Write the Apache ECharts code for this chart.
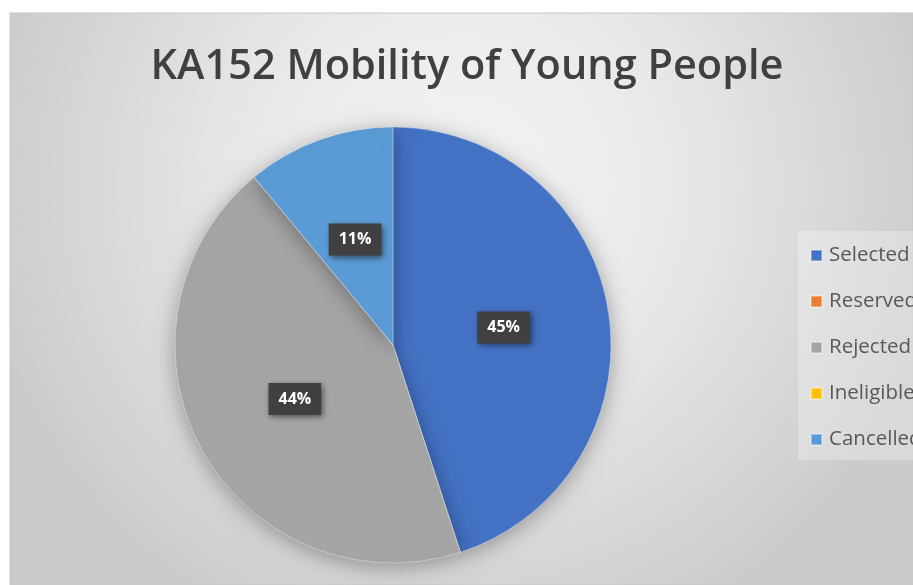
<!DOCTYPE html>
<html>
<head>
<meta charset="utf-8">
<script src="https://cdn.jsdelivr.net/npm/echarts@6/dist/echarts.min.js"></script>
<style>
  html, body { margin: 0; padding: 0; background: #ffffff; }
  #chart { width: 913px; height: 585px; }
</style>
</head>
<body>
<div id="chart"></div>
<script>
// Application outcomes for KA152 (share of applications, %)
const categories = ['Selected', 'Reserved', 'Rejected', 'Ineligible', 'Cancelled'];
const values = [45, 0, 44, 0, 11];
const colors = ['#4472C4', '#ED7D31', '#A5A5A5', '#FFC000', '#5B9BD5'];
const titleText = 'KA152 Mobility of Young People';

const FONT = '"Open Sans", "Noto Sans", sans-serif';

const pieData = categories.map((name, i) => {
  const item = { name: name, value: values[i], itemStyle: { color: colors[i] } };
  if (values[i] === 0) item.label = { show: false };
  return item;
});

const chart = echarts.init(document.getElementById('chart'), null, { renderer: 'canvas' });

chart.setOption({
  backgroundColor: '#ffffff',
  animation: false,
  graphic: [
    {
      type: 'rect',
      z: -10,
      shape: { x: 10, y: 13, width: 903, height: 572 },
      style: {
        fill: new echarts.graphic.RadialGradient(0.5, 0.3, 0.85, [
          { offset: 0, color: '#f5f5f5' },
          { offset: 0.45, color: '#e8e8e8' },
          { offset: 1, color: '#cbcbcb' }
        ]),
        stroke: '#c6c6c6',
        lineWidth: 1
      }
    }
  ],
  title: {
    text: titleText,
    left: 462,
    textAlign: 'center',
    top: 41,
    textStyle: {
      fontFamily: FONT,
      fontSize: 41.5,
      fontWeight: 600,
      color: '#404040'
    }
  },
  legend: {
    orient: 'vertical',
    left: 798,
    top: 231,
    icon: 'rect',
    itemWidth: 11,
    itemHeight: 11,
    itemGap: 25,
    padding: [14, 60, 10, 12],
    backgroundColor: 'rgba(255,255,255,0.28)',
    data: categories,
    textStyle: {
      fontFamily: FONT,
      fontSize: 20.5,
      lineHeight: 20,
      color: '#595959',
      padding: [0, 0, 0, 2]
    }
  },
  series: [
    {
      type: 'pie',
      center: [393, 345],
      radius: 218,
      startAngle: 90,
      clockwise: true,
      avoidLabelOverlap: false,
      data: pieData,
      itemStyle: {
        borderColor: 'rgba(255,255,255,0.35)',
        borderWidth: 1,
        shadowBlur: 22,
        shadowColor: 'rgba(0,0,0,0.32)',
        shadowOffsetY: 4
      },
      label: {
        show: true,
        position: 'inside',
        formatter: '{d}%',
        fontFamily: FONT,
        fontSize: 16,
        fontWeight: 'bold',
        color: '#ffffff',
        backgroundColor: '#404040',
        padding: [9, 10, 7, 10],
        shadowBlur: 6,
        shadowColor: 'rgba(0,0,0,0.5)',
        shadowOffsetX: 2,
        shadowOffsetY: 2
      },
      labelLine: { show: false },
      emphasis: { disabled: true }
    }
  ]
});
</script>
</body>
</html>
